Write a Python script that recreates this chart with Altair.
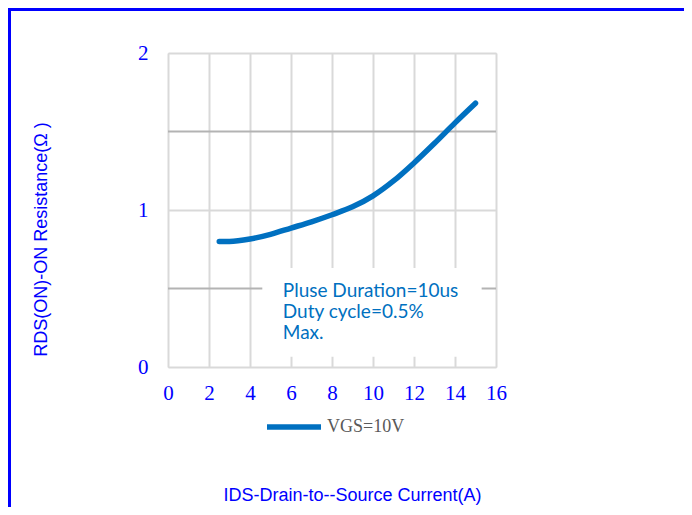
import altair as alt
import pandas as pd

# ---- data ----
x_current = [2.5, 3, 4, 5, 6, 7, 8, 9, 10, 11, 12, 13, 14, 15]
r_ds = [0.80, 0.80, 0.815, 0.845, 0.885, 0.925, 0.97, 1.02, 1.09, 1.185, 1.30, 1.425, 1.555, 1.68]
series_name = "VGS=10V"
x_ticks = [0, 2, 4, 6, 8, 10, 12, 14, 16]
y_ticks = [0, 1, 2]
minor_y = [0.5, 1.5]
note_lines = ["Pluse Duration=10us", "Duty cycle=0.5%", "Max."]
note_x = [5.6, 5.6, 5.6]
note_y = [0.54, 0.408, 0.276]
box_x = [4.6, 15.3]
box_y = [0.065, 0.63]

BLUE = "#0000ff"
LINE = "#0070C0"

df = pd.DataFrame({"x": x_current, "y": r_ds, "series": [series_name] * len(x_current)})
xscale = alt.Scale(domain=[0, 16], nice=False)
yscale = alt.Scale(domain=[0, 2], nice=False)

minor = alt.Chart(pd.DataFrame({"y": minor_y})).mark_rule(color="#b3b3b3", strokeWidth=2).encode(
    y=alt.Y("y:Q", scale=yscale)
)

box = alt.Chart(pd.DataFrame({"x": [box_x[0]], "x2": [box_x[1]], "y": [box_y[0]], "y2": [box_y[1]]})).mark_rect(
    fill="white"
).encode(
    x=alt.X("x:Q", scale=xscale), x2="x2:Q",
    y=alt.Y("y:Q", scale=yscale), y2="y2:Q",
)

note = alt.Chart(pd.DataFrame({"x": note_x, "y": note_y, "t": note_lines})).mark_text(
    align="left", baseline="top", font="Lato", fontSize=19, color=LINE
).encode(
    x=alt.X("x:Q", scale=xscale), y=alt.Y("y:Q", scale=yscale), text="t:N"
)

line = alt.Chart(df).mark_line(strokeWidth=5.5, strokeCap="round", interpolate="monotone").encode(
    x=alt.X("x:Q", scale=xscale, axis=alt.Axis(
        values=x_ticks, title="IDS-Drain-to--Source Current(A)", grid=True, gridColor="#d9d9d9",
        gridWidth=2, domain=False, ticks=False, labelFont="Liberation Serif", labelFontSize=21,
        labelColor=BLUE, labelPadding=15, labelFlush=False, labelOverlap=False,
        titleFont="Liberation Sans", titleFontSize=18, titleFontWeight="normal", titleColor=BLUE,
        titleX=184, titleY=133, titleAlign="center", titleBaseline="alphabetic")),
    y=alt.Y("y:Q", scale=yscale, axis=alt.Axis(
        values=y_ticks, title="RDS(ON)-ON Resistance(Ω )", grid=True, gridColor="#d9d9d9",
        gridWidth=2, domain=False, ticks=False, labelFont="Liberation Serif", labelFontSize=21,
        labelColor=BLUE, labelPadding=20, labelFlush=False, labelOverlap=False,
        labelExpr="format(datum.value, 'd')",
        titleFont="Liberation Sans", titleFontSize=18, titleFontWeight="normal", titleColor=BLUE,
        titleX=-127, titleY=186, titleAngle=270, titleAlign="center", titleBaseline="middle")),
    color=alt.Color("series:N", scale=alt.Scale(range=[LINE]), legend=alt.Legend(
        title=None, orient="none", legendX=96, legendY=344, symbolType="stroke",
        symbolSize=2916, symbolStrokeWidth=5.5, labelFont="Liberation Serif", labelFontSize=18,
        labelColor="#595959", labelOffset=3, padding=0)),
)

border_left = alt.Chart(pd.DataFrame({"a": [0]})).mark_rule(color=BLUE, strokeWidth=3).encode(
    x=alt.value(-158.5), y=alt.value(-45), y2=alt.value(460)
)
border_top = alt.Chart(pd.DataFrame({"a": [0]})).mark_rule(color=BLUE, strokeWidth=3).encode(
    x=alt.value(-160), x2=alt.value(520), y=alt.value(-43.5)
)

chart = alt.layer(minor, box, note, line, border_left, border_top).properties(
    width=328, height=314,
    autosize=alt.AutoSizeParams(type="none"),
    padding={"left": 160, "top": 45, "right": 188, "bottom": 140},
).configure_view(strokeWidth=0).configure(background="white")

chart.save("out.html", embed_options={"renderer": "svg", "actions": False})
